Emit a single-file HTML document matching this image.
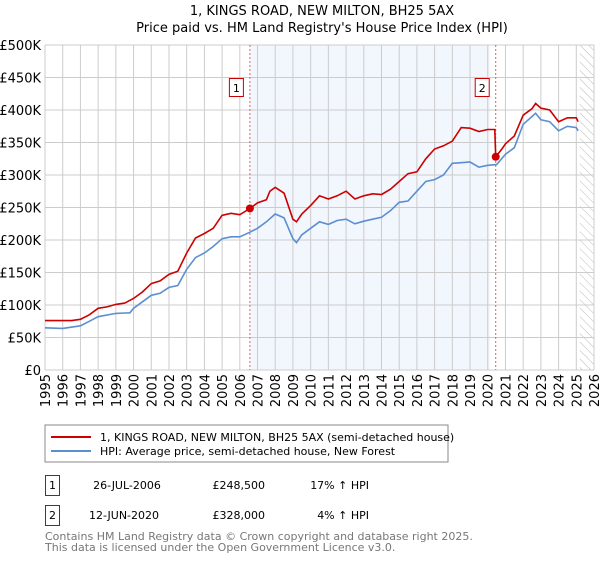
<!DOCTYPE html>
<html><head><meta charset="utf-8"><style>
body{margin:0;background:#fff;font-family:"DejaVu Sans","Liberation Sans",sans-serif;}
svg text{font-family:"DejaVu Sans","Liberation Sans",sans-serif;}
</style></head><body>
<svg id="c" width="600" height="560" xmlns="http://www.w3.org/2000/svg">
<text x="322" y="15" text-anchor="middle" font-size="13" fill="#000">1, KINGS ROAD, NEW MILTON, BH25 5AX</text>
<text x="322" y="32" text-anchor="middle" font-size="13" fill="#000">Price paid vs. HM Land Registry's House Price Index (HPI)</text>
<g id="plot"></g>
<rect x="45" y="425" width="403" height="37" fill="#fff" stroke="#888"/>
<line x1="51" y1="437" x2="91" y2="437" stroke="#cc0000" stroke-width="2"/>
<text x="100" y="441" font-size="11">1, KINGS ROAD, NEW MILTON, BH25 5AX (semi-detached house)</text>
<line x1="51" y1="451" x2="91" y2="451" stroke="#5b8fd0" stroke-width="2"/>
<text x="100" y="455" font-size="11">HPI: Average price, semi-detached house, New Forest</text>
<g>
<rect x="45.5" y="475.5" width="14" height="20" fill="none" stroke="#cc0000"/>
<text x="52.5" y="489" font-size="11" text-anchor="middle">1</text>
<text x="127" y="489" font-size="11" text-anchor="middle">26-JUL-2006</text>
<text x="265" y="489" font-size="11" text-anchor="end">£248,500</text>
<text x="369" y="489" font-size="11" text-anchor="end">17% ↑ HPI</text>
</g>
<g>
<rect x="45.5" y="505.5" width="14" height="20" fill="none" stroke="#cc0000"/>
<text x="52.5" y="519" font-size="11" text-anchor="middle">2</text>
<text x="124" y="519" font-size="11" text-anchor="middle">12-JUN-2020</text>
<text x="265" y="519" font-size="11" text-anchor="end">£328,000</text>
<text x="369" y="519" font-size="11" text-anchor="end">4% ↑ HPI</text>
</g>
<text x="45" y="540" font-size="11" fill="#777">Contains HM Land Registry data © Crown copyright and database right 2025.</text>
<text x="45" y="551" font-size="11" fill="#777">This data is licensed under the Open Government Licence v3.0.</text>
</svg>
<script>
const redT=[1995,1996,1996.5,1997,1997.5,1998,1998.5,1999,1999.5,2000,2000.5,2001,2001.5,2002,2002.5,2003,2003.5,2004,2004.5,2005,2005.5,2006,2006.57,2007,2007.5,2007.7,2008,2008.5,2009,2009.2,2009.5,2010,2010.5,2011,2011.5,2012,2012.5,2013,2013.5,2014,2014.5,2015,2015.5,2016,2016.5,2017,2017.5,2018,2018.5,2019,2019.5,2020,2020.4,2020.45,2020.8,2021,2021.5,2022,2022.5,2022.7,2023,2023.5,2024,2024.5,2025,2025.1];
const redV=[76,76,76,78,85,95,97,101,103,110,120,133,137,147,152,180,203,210,218,238,241,239,248.5,257,262,275,281,272,232,228,240,253,268,263,268,275,263,268,271,270,278,290,302,305,325,340,345,352,373,372,367,370,370,328,340,348,360,392,402,410,403,400,382,388,388,382];
const hpiT=[1995,1996,1997,1997.5,1998,1999,1999.8,2000,2000.5,2001,2001.5,2002,2002.5,2003,2003.5,2004,2004.5,2005,2005.5,2006,2006.57,2007,2007.5,2008,2008.5,2009,2009.2,2009.5,2010,2010.5,2011,2011.5,2012,2012.5,2013,2013.5,2014,2014.5,2015,2015.5,2016,2016.5,2017,2017.5,2018,2018.5,2019,2019.5,2020,2020.5,2021,2021.5,2022,2022.5,2022.7,2023,2023.5,2024,2024.5,2025,2025.1];
const hpiV=[65,64,68,75,82,87,88,95,105,115,118,127,130,155,173,180,190,202,205,205,212,218,228,240,234,202,196,208,218,228,224,230,232,225,229,232,235,245,258,260,275,290,293,300,318,319,320,312,315,316,332,342,378,390,395,385,382,368,375,373,368];
const saleT=[2006.57,2020.45];
const saleV=[248.5,328];
const yTicks=[0,50,100,150,200,250,300,350,400,450,500];
const yLabels=["£0","£50K","£100K","£150K","£200K","£250K","£300K","£350K","£400K","£450K","£500K"];
const xTicks=[1995,1996,1997,1998,1999,2000,2001,2002,2003,2004,2005,2006,2007,2008,2009,2010,2011,2012,2013,2014,2015,2016,2017,2018,2019,2020,2021,2022,2023,2024,2025,2026];
const X0=45,X1=594,Y0=370,Y1=45;
const xs=t=>X0+(t-1995)/(2026-1995)*(X1-X0);
const ys=v=>Y0-v/500*(Y0-Y1);
const NS="http://www.w3.org/2000/svg";
const g=document.getElementById('plot');
function mk(tag,attrs,parent){const e=document.createElementNS(NS,tag);for(const k in attrs)e.setAttribute(k,attrs[k]);(parent||g).appendChild(e);return e;}
let e=mk('rect',{x:xs(saleT[0]),y:Y1,width:xs(saleT[1])-xs(saleT[0])-6,height:Y0-Y1,fill:'#f2f6fd'});


const defs=mk('defs',{});
const pat=mk('pattern',{id:'h',width:6,height:6,patternUnits:'userSpaceOnUse',patternTransform:'rotate(-45)'},defs);
mk('line',{x1:0,y1:0,x2:0,y2:6,stroke:'#bbb','stroke-width':1},pat);
e=mk('rect',{x:xs(2025.2),y:Y1,width:X1-xs(2025.2),height:Y0-Y1,fill:'url(#h)'});


yTicks.forEach((v,i)=>{
 let l=mk('line',{x1:X0,x2:X1,y1:ys(v),y2:ys(v),stroke:'#ccc','stroke-width':1});
 
 
 let t=mk('text',{x:X0-4,y:ys(v)+5,'text-anchor':'end','font-size':13,fill:'#000'});
 t.textContent=yLabels[i];
 
 
});
xTicks.forEach(yr=>{
 let l=mk('line',{x1:xs(yr),x2:xs(yr),y1:Y1,y2:Y0,stroke:'#ccc','stroke-width':1});
 
 
 let t=mk('text',{x:0,y:0,'text-anchor':'end','font-size':13,fill:'#000',transform:`translate(${xs(yr)+5},${Y0+4}) rotate(-90)`});
 t.textContent=yr;
 
 
});
saleT.forEach((t,i)=>{
 let l=mk('line',{x1:xs(t),x2:xs(t),y1:Y1,y2:Y0,stroke:'#e06060','stroke-width':1,'stroke-dasharray':'2,2'});
 
 
 let r=mk('rect',{x:xs(t)-20.5,y:78.5,width:14,height:18,fill:'#fff',stroke:'#cc0000'});
 
 
 let tx=mk('text',{x:xs(t)-13.5,y:92,'text-anchor':'middle','font-size':11});
 tx.textContent=String(i+1);
 
 
});
function path(T,V,col,name){
 let d=T.map((t,i)=>(i?'L':'M')+xs(t).toFixed(1)+','+ys(V[i]).toFixed(1)).join('');
 let p=mk('path',{d:d,fill:'none',stroke:col,'stroke-width':1.6});
 
 
}
path(hpiT,hpiV,'#5b8fd0','hpi-line');
path(redT,redV,'#cc0000','price-paid-line');
saleT.forEach((t,i)=>{
 let c=mk('circle',{cx:xs(t),cy:ys(saleV[i]),r:4,fill:'#cc0000'});
 
 
});
</script>
</body></html>
